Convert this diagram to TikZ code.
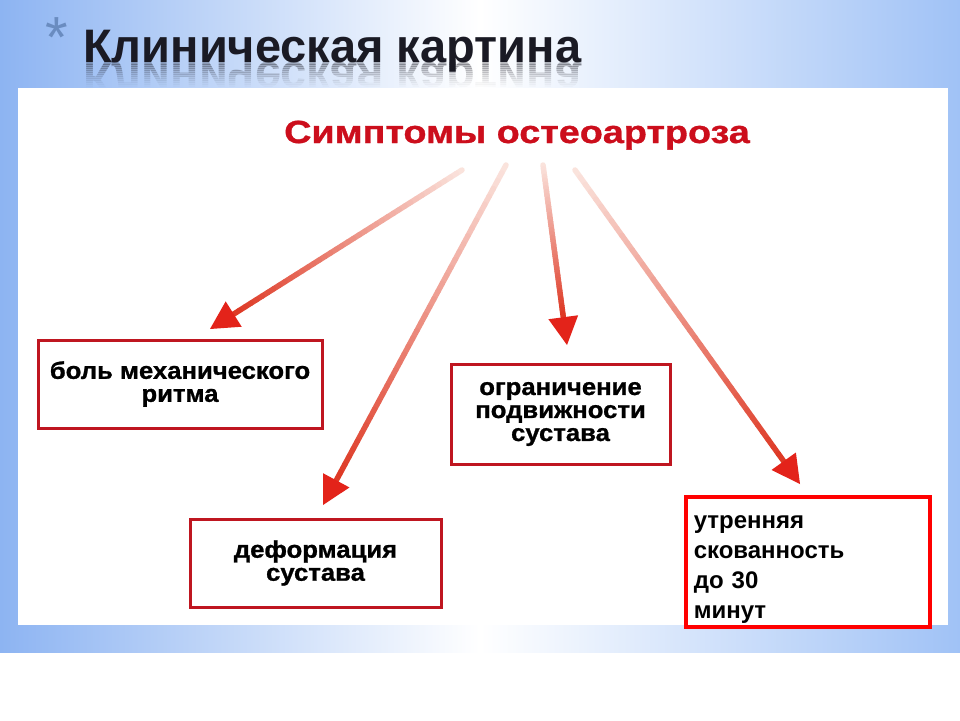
\documentclass[tikz,border=0pt]{standalone}
\usepackage{fontspec}
\setmainfont{Liberation Sans}
\newfontfamily\subfont{Liberation Sans}[FakeStretch=1.18, FakeBold=1]
\newfontfamily\boxfont{Liberation Sans}[FakeStretch=1.07, FakeBold=1]
\usetikzlibrary{calc}
\definecolor{bgL}{HTML}{8DB4F2}
\definecolor{bgR}{HTML}{A0C2F6}
\definecolor{titlecol}{HTML}{1A1A24}
\definecolor{starcol}{HTML}{6A8CC0}
\definecolor{subred}{HTML}{CC0E1C}
\definecolor{boxred}{HTML}{BF1620}
\definecolor{purered}{HTML}{FF0000}
\definecolor{arrowtop}{HTML}{FBE8E2}
\definecolor{arrowbot}{HTML}{DE3A26}
\definecolor{headred}{HTML}{E3231A}
\begin{document}
\begin{tikzpicture}[x=1pt,y=-1pt,
  titlefont/.style={font=\fontsize{47}{50}\selectfont\bfseries, inner sep=0},
  boxstyle/.style={draw=boxred, line width=3, fill=white, align=center, inner sep=0,
    font=\boxfont\fontsize{24}{23}\selectfont\bfseries},
  arrowseg/.style={line width=5.5, line cap=round}
  ]
\useasboundingbox (0,0) rectangle (960,720);
\fill[white] (0,0) rectangle (960,720);
\shade[left color=bgL, right color=bgR, middle color=white] (0,0) rectangle (960,652);
\fill[white] (18,88) rectangle (948,625);

% title with reflection
\node[font=\fontsize{58}{58}\selectfont, text=starcol, anchor=base west, inner sep=0] (star) at (45,57) {*};
\node[titlefont, text=titlecol, anchor=base west] (title) at (83,62) {Клиническая картина};
\foreach \k in {0,...,12} {
  \pgfmathsetmacro\ya{62+2*\k}
  \pgfmathsetmacro\yb{64+2*\k}
  \pgfmathsetmacro\op{0.30*(1-\k/13)^1.6}
  \begin{scope}
    \clip (0,\ya) rectangle (960,\yb);
    \node[titlefont, text=titlecol, opacity=\op, anchor=base west] (refl\k) at (83,62)
      {\scalebox{1}[-1]{Клиническая картина}};
  \end{scope}
}

% subtitle
\node[font=\subfont\fontsize{32}{34}\selectfont\bfseries, text=subred, anchor=base, inner sep=0]
  (sym) at (517,143) {Симптомы остеоартроза};

% arrows
\coordinate (s1) at (462,170); \coordinate (t1) at (210,329);
\coordinate (s2) at (506,165); \coordinate (t2) at (323,505);
\coordinate (s3) at (543,165); \coordinate (t3) at (567,345);
\coordinate (s4) at (575,170); \coordinate (t4) at (800,484);
\foreach \s/\t/\h in {s1/t1/h1, s2/t2/h2, s3/t3/h3, s4/t4/h4} {
  \coordinate (\h) at ($(\t)!28pt!(\s)$);
  \foreach \i in {0,...,39} {
    \pgfmathtruncatemacro\p{3+97*\i/39}
    \draw[arrowseg, color=arrowbot!\p!arrowtop] ($(\s)!\i/40!(\h)$) -- ($(\s)!\i/40+1/40!(\h)$);
  }
  \fill[headred] (\t) -- ($(\h)!15pt!90:(\t)$) -- ($(\h)!15pt!-90:(\t)$) -- cycle;
}

% boxes
\node[boxstyle, minimum width=284, minimum height=88] (b1) at (180,384) {боль механического\\ритма};
\node[boxstyle, minimum width=251, minimum height=88] (b2) at (315.5,563) {деформация\\сустава};
\node[boxstyle, minimum width=219, minimum height=100] (b3) at (560.5,414) {ограничение\\подвижности\\сустава};
\node[draw=purered, line width=3.5, fill=white, anchor=north west, inner xsep=8, inner ysep=0,
  text width=228, align=left, text height=32, text depth=98,
  font=\fontsize{24}{30}\selectfont\bfseries] (b4) at (684,495) {утренняя\\скованность\\до 30\\минут};
\end{tikzpicture}
\end{document}
